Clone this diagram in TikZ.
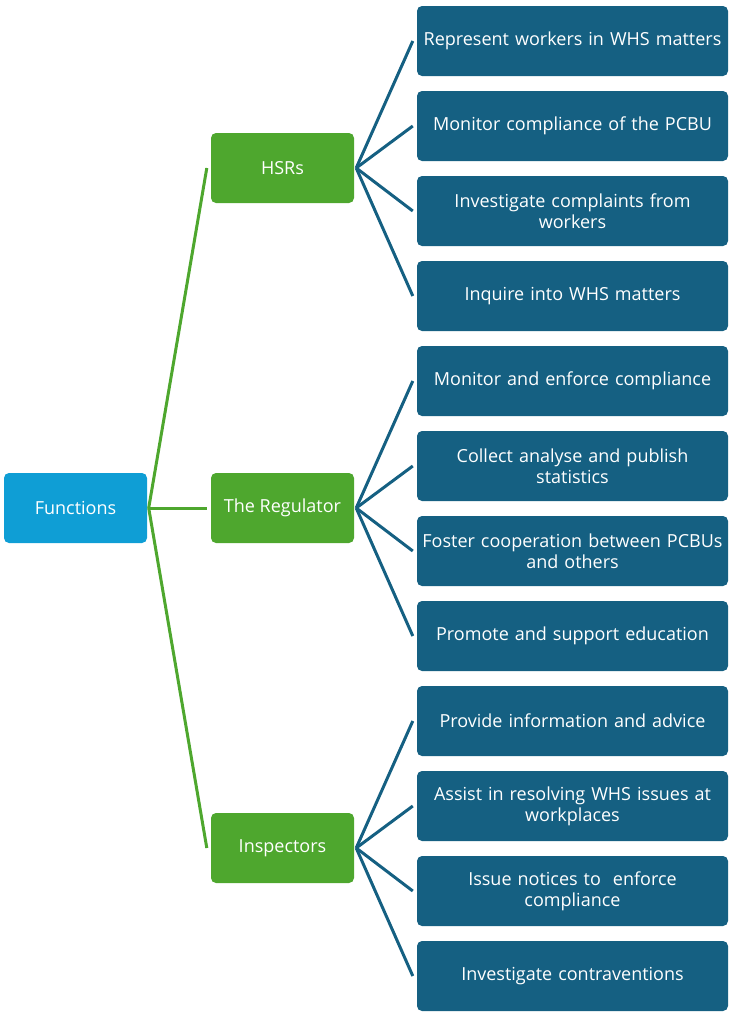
\documentclass[tikz,border=0pt]{standalone}
\usepackage{fontspec}
\setmainfont{Open Sans}
\definecolor{rootblue}{HTML}{0F9ED5}
\definecolor{midgreen}{HTML}{4EA72E}
\definecolor{leafblue}{HTML}{156082}
\begin{document}
\begin{tikzpicture}[x=1pt,y=-1pt,
  box/.style={rounded corners=5pt, minimum height=70pt, inner sep=0pt, text=white,
     font=\fontsize{18}{21}\selectfont, align=center},
  rootbox/.style={box, fill=rootblue, minimum width=143pt},
  midbox/.style={box, fill=midgreen, minimum width=143pt},
  leafbox/.style={box, fill=leafblue, minimum width=311pt, text width=311pt},
  gline/.style={draw=midgreen, line width=3pt},
  bline/.style={draw=leafblue, line width=3pt}]
\useasboundingbox (0,0) rectangle (733,1012);
\node[rootbox] (root) at (75.5,508) {Functions};
\node[midbox] (hsr) at (282.5,168) {HSRs};
\node[midbox] (reg) at (282.5,508) {The Regulator};
\node[midbox] (ins) at (282.5,848) {Inspectors};
\foreach \i/\t in {1/Represent workers in WHS matters,
  2/Monitor compliance of the PCBU,
  3/Investigate complaints from\\workers,
  4/Inquire into WHS matters,
  5/Monitor and enforce compliance,
  6/Collect analyse and publish\\statistics,
  7/Foster cooperation between PCBUs\\and others,
  8/Promote and support education,
  9/Provide information and advice,
  10/Assist in resolving WHS issues at\\workplaces,
  11/Issue notices to\ \ enforce\\compliance,
  12/Investigate contraventions}
  \node[leafbox] (l\i) at (572.5,{41+85*(\i-1)}) {\t};
\coordinate (rj) at ([xshift=1.5pt]root.east);
\foreach \m in {hsr,reg,ins}
  \draw[gline] (rj) -- ([xshift=-4pt]\m.west);
\foreach \m/\a/\b in {hsr/1/4,reg/5/8,ins/9/12}
  \foreach \i in {\a,...,\b}
    \draw[bline] ([xshift=2pt]\m.east) -- ([xshift=-4pt]l\i.west);
\end{tikzpicture}
\end{document}
